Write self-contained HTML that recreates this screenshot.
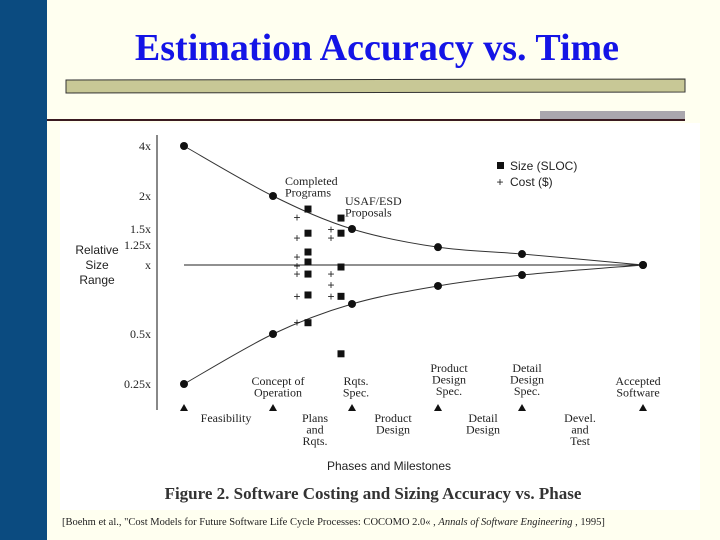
<!DOCTYPE html>
<html><head><meta charset="utf-8"><style>
html,body{margin:0;padding:0;background:#fffff0;width:720px;height:540px;overflow:hidden}
svg{display:block}
.s{font-family:"Liberation Sans",sans-serif;font-size:12px;fill:#222}
.t{font-family:"Liberation Serif",serif;font-size:12px;fill:#222}
</style></head><body>
<svg width="720" height="540">
<rect x="0" y="0" width="720" height="540" fill="#fffff0"/>
<rect x="0" y="0" width="47" height="540" fill="#0b4b80"/>
<text x="377" y="60" text-anchor="middle" font-family="Liberation Serif,serif" font-weight="bold" font-size="38" fill="#1414e6">Estimation Accuracy vs. Time</text>
<polygon points="66,80 685,79 685,92 66,93" fill="#c8c896" stroke="#333" stroke-width="1"/>
<rect x="540" y="111" width="145" height="8" fill="#aaa7ad"/>
<rect x="47" y="119" width="638" height="2" fill="#3a1a20"/>
<rect x="60" y="123" width="640" height="387" fill="#ffffff"/>
<g id="chart"></g>
<text x="373" y="499" text-anchor="middle" font-family="Liberation Serif,serif" font-weight="bold" font-size="17" fill="#333">Figure 2. Software Costing and Sizing Accuracy vs. Phase</text>
<text x="62" y="525" font-family="Liberation Serif,serif" font-size="10.5" fill="#222">[Boehm et al., "Cost Models for Future Software Life Cycle Processes: COCOMO 2.0« , <tspan font-style="italic">Annals of Software Engineering</tspan> , 1995]</text>
</svg>
<script>
const milestones=[0,1,2,3,4,5];
const upperValues=[4,2,1.5,1.22,1.13,1];
const lowerValues=[0.25,0.5,0.676,0.81,0.904,1];
const sizeA=[1.785,1.43,1.156,1.034,0.913,0.74,0.56];
const costA=[1.66,1.35,1.093,0.99,0.913,0.73,0.56];
const sizeB=[1.65,1.43,0.98,0.73,0.38];
const costB=[1.49,1.35,0.913,0.82,0.73];
const tickValues=[4,2,1.5,1.25,1,0.5,0.25];
const tickLabels=["4x","2x","1.5x","1.25x","x","0.5x","0.25x"];
const milestoneX=[184,273,352,438,522,643];
const axisCalY=[146,196,229,245,265,334,384];
function xs(i){return milestoneX[i];}
function ys(v){const L=Math.log(v);
for(let i=0;i<tickValues.length-1;i++){const a=Math.log(tickValues[i]),b=Math.log(tickValues[i+1]);
if(L<=a&&L>=b||i===tickValues.length-2||(i===0&&L>a)){return axisCalY[i]+(a-L)/(a-b)*(axisCalY[i+1]-axisCalY[i]);}}}
const NS="http://www.w3.org/2000/svg";
const g=document.getElementById('chart');
function mk(tag,attrs,txt){const e=document.createElementNS(NS,tag);for(const k in attrs)e.setAttribute(k,attrs[k]);if(txt!=null)e.textContent=txt;g.appendChild(e);return e;}
let e;
e=mk('line',{x1:157,y1:135,x2:157,y2:410,stroke:'#888','stroke-width':2});


tickValues.forEach((v,i)=>{e=mk('text',{x:151,y:ys(v)+4,'text-anchor':'end',class:'t'},tickLabels[i]);

});
[["Relative",250],["Size",265],["Range",280]].forEach(a=>{e=mk('text',{x:97,y:a[1]+4,'text-anchor':'middle',class:'s'},a[0]);

});
e=mk('line',{x1:xs(0),y1:ys(1),x2:xs(5),y2:ys(1),stroke:'#222','stroke-width':1});


function curve(vals){const p=vals.map((v,i)=>[xs(i),ys(v)]);let d='M'+p[0][0]+','+p[0][1];
for(let i=0;i<p.length-1;i++){const p0=p[Math.max(0,i-1)],p1=p[i],p2=p[i+1],p3=p[Math.min(p.length-1,i+2)];
d+=' C'+(p1[0]+(p2[0]-p0[0])/6)+','+(p1[1]+(p2[1]-p0[1])/6)+' '+(p2[0]-(p3[0]-p1[0])/6)+','+(p2[1]-(p3[1]-p1[1])/6)+' '+p2[0]+','+p2[1];}return d;}
[[upperValues,'upper'],[lowerValues,'lower']].forEach(s=>{
e=mk('path',{d:curve(s[0]),fill:'none',stroke:'#333','stroke-width':1});


s[0].forEach((v,i)=>{e=mk('circle',{cx:xs(i),cy:ys(v),r:4,fill:'#111'});

});});
function sq(x,v){e=mk('rect',{x:x-3.5,y:ys(v)-3.5,width:7,height:7,fill:'#111'});

}
function pl(x,v){e=mk('text',{x:x,y:ys(v)+4,'text-anchor':'middle',class:'s','font-size':'12'},'+');

}
sizeA.forEach(v=>sq(308,v));costA.forEach(v=>pl(297,v));
sizeB.forEach(v=>sq(341,v));costB.forEach(v=>pl(331,v));
e=mk('rect',{x:497,y:162,width:7,height:7,fill:'#111'});


e=mk('text',{x:510,y:170,class:'s'},'Size (SLOC)');


e=mk('text',{x:500,y:186,'text-anchor':'middle',class:'s'},'+');


e=mk('text',{x:510,y:186,class:'s'},'Cost ($)');


function lbl(lines,x,y0,name,anchor){lines.forEach((t,i)=>{e=mk('text',{x:x,y:y0+i*11.5,'text-anchor':anchor||'middle',class:'t'},t);

});}
lbl(["Completed","Programs"],285,185,'annotation-completed','start');
lbl(["USAF/ESD","Proposals"],345,205,'annotation-usaf','start');
lbl(["Concept of","Operation"],278,385,'milestone-label');
lbl(["Rqts.","Spec."],356,385,'milestone-label');
lbl(["Product","Design","Spec."],449,372,'milestone-label');
lbl(["Detail","Design","Spec."],527,372,'milestone-label');
lbl(["Accepted","Software"],638,385,'milestone-label');
milestones.forEach(i=>{const x=xs(i);e=mk('polygon',{points:(x-4)+',411 '+(x+4)+',411 '+x+',404',fill:'#111'});

});
lbl(["Feasibility"],226,422,'phase-label');
lbl(["Plans","and","Rqts."],315,422,'phase-label');
lbl(["Product","Design"],393,422,'phase-label');
lbl(["Detail","Design"],483,422,'phase-label');
lbl(["Devel.","and","Test"],580,422,'phase-label');
e=mk('text',{x:389,y:470,'text-anchor':'middle',class:'s'},'Phases and Milestones');


</script>
</body></html>
